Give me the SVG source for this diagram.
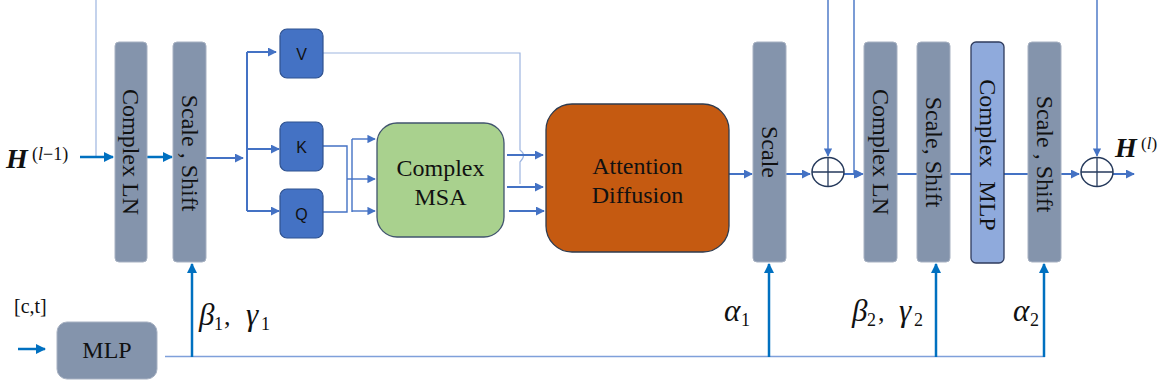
<svg xmlns="http://www.w3.org/2000/svg" width="1169" height="391" viewBox="0 0 1169 391">
<style>
.gbox{fill:#8494AC;stroke:#A7B1C2;stroke-width:1}
.vt{font-family:"Liberation Serif","Times New Roman",serif;font-size:24px;fill:#111;text-anchor:middle;dominant-baseline:central}
.qkv{fill:#4472C4;stroke:#2F528F;stroke-width:1.2}
.qt{font-family:"Liberation Sans",Arial,sans-serif;font-size:16px;fill:#111;text-anchor:middle;dominant-baseline:central}
.st{font-family:"Liberation Serif","Times New Roman",serif;font-size:24px;fill:#111;text-anchor:middle}
.sr{font-family:"Liberation Serif","Times New Roman",serif;fill:#111}
.m{font-family:"Liberation Serif","Times New Roman",serif;font-style:italic;fill:#111}
.g{font-family:"Liberation Serif","Times New Roman",serif;font-style:italic;font-size:31px;fill:#111}
.up{font-style:normal}
.sub{font-family:"Liberation Serif","Times New Roman",serif;font-size:18px;fill:#111}
.a1{stroke:#0070C0;stroke-width:2.5;fill:none}
.a2{stroke:#4472C4;stroke-width:2;fill:none}
.a3{stroke:#4472C4;stroke-width:1.4;fill:none}
.thin{stroke:#9DB5E0;stroke-width:1.2;fill:none}
.circ{fill:#fff;stroke:#263A5C;stroke-width:1.5}
</style>
<defs>
<marker id="m1" viewBox="0 0 10 10" refX="9" refY="5" markerWidth="4" markerHeight="4" orient="auto" markerUnits="strokeWidth"><path d="M0,0 L10,5 L0,10 z" fill="#0070C0"/></marker>
<marker id="m2" viewBox="0 0 10 10" refX="9" refY="5" markerWidth="4.5" markerHeight="4.5" orient="auto" markerUnits="strokeWidth"><path d="M0,0 L10,5 L0,10 z" fill="#4472C4"/></marker>
<marker id="m3" viewBox="0 0 10 10" refX="9" refY="5" markerWidth="6" markerHeight="6" orient="auto" markerUnits="strokeWidth"><path d="M0,0 L10,5 L0,10 z" fill="#4472C4"/></marker>
</defs>
<rect width="1169" height="391" fill="#fff"/>

<g id="connectors">
  <path class="thin" d="M96,0 V156"/>
  <path class="a3" d="M828,0 V156" marker-end="url(#m3)"/>
  <path class="a3" d="M854,0 V174 H863" marker-end="url(#m3)"/>
  <path class="a3" d="M1097,0 V156" marker-end="url(#m3)"/>
  <path class="a1" d="M80,157 H113" marker-end="url(#m1)"/>
  <path class="a1" d="M147,157 H172" marker-end="url(#m1)"/>
  <path class="a2" d="M206,158 H243" marker-end="url(#m2)"/>
  <path class="a2" d="M247,52 V211"/>
  <path class="a2" d="M247,52 H276" marker-end="url(#m2)"/>
  <path class="a2" d="M247,149 H279" marker-end="url(#m2)"/>
  <path class="a2" d="M247,211 H279" marker-end="url(#m2)"/>
  <path class="a3" d="M323,146 H347 V212 H323"/>
  <path class="a3" d="M347,179 H352"/>
  <path class="a3" d="M352,139 V212"/>
  <path class="a3" d="M352,139 H375" marker-end="url(#m3)"/>
  <path class="a3" d="M352,179 H375" marker-end="url(#m3)"/>
  <path class="a3" d="M352,211 H375" marker-end="url(#m3)"/>
  <path class="thin" d="M323,53 H520 V150 Q527,155 520,162 V184"/>
  <path class="a2" d="M507,155 H543" marker-end="url(#m2)"/>
  <path class="a2" d="M507,187 H543" marker-end="url(#m2)"/>
  <path class="a2" d="M509,211 H544" marker-end="url(#m2)"/>
  <path class="a2" d="M729,174 H752" marker-end="url(#m2)"/>
  <path class="a2" d="M786,174 H810" marker-end="url(#m2)"/>
  <path class="a2" d="M844,174 H862" marker-end="url(#m2)"/>
  <path class="a2" d="M897,174 H917"/>
  <path class="a2" d="M950,174 H971"/>
  <path class="a2" d="M1004,174 H1028"/>
  <path class="a2" d="M1061,174 H1079" marker-end="url(#m2)"/>
  <path class="a2" d="M1113,174 H1134" marker-end="url(#m2)"/>
  <path class="a1" d="M18,349 H45" marker-end="url(#m1)"/>
  <path class="a3" d="M165,356.5 H1045" style="stroke:#7FA0DA"/>
  <path class="a1" d="M192,357 V264" marker-end="url(#m1)"/>
  <path class="a1" d="M769,357 V264" marker-end="url(#m1)"/>
  <path class="a1" d="M936,357 V264" marker-end="url(#m1)"/>
  <path class="a1" d="M1044,357 V264" marker-end="url(#m1)"/>
</g>

<g id="label-h-in"><text class="m" x="6" y="168" font-size="28" font-weight="bold">H</text><text class="m" x="32" y="160" font-size="18"><tspan class="up">(</tspan>l<tspan class="up">−1)</tspan></text></g>

<g id="complex-ln-1"><rect class="gbox" x="115" y="42" width="32" height="220" rx="4"/><text class="vt" transform="translate(131,152) rotate(90)">Complex LN</text></g>
<g id="scale-shift-1"><rect class="gbox" x="173" y="42" width="33" height="220" rx="4"/><text class="vt" transform="translate(189.5,153) rotate(90)">Scale , Shift</text></g>

<g id="v"><rect class="qkv" x="280" y="29" width="43" height="49" rx="7"/><text class="qt" x="301.5" y="54">V</text></g>
<g id="k"><rect class="qkv" x="280" y="122" width="43" height="49" rx="7"/><text class="qt" x="301.5" y="147">K</text></g>
<g id="q"><rect class="qkv" x="280" y="189" width="43" height="49" rx="7"/><text class="qt" x="301.5" y="214">Q</text></g>

<g id="complex-msa"><rect x="377" y="123" width="127" height="114" rx="20" fill="#A9D18E" stroke="#41546E" stroke-width="1.3"/><text class="st" x="440.5" y="176">Complex</text><text class="st" x="440.5" y="205">MSA</text></g>

<g id="attention-diffusion"><rect x="546" y="104" width="183" height="148" rx="26" fill="#C55A11" stroke="#2F3B4E" stroke-width="1.3"/><text class="st" x="637.5" y="174">Attention</text><text class="st" x="637.5" y="203">Diffusion</text></g>

<g id="scale-1"><rect class="gbox" x="753" y="42" width="33" height="220" rx="4"/><text class="vt" transform="translate(769.5,152) rotate(90)">Scale</text></g>

<g id="add-1"><ellipse class="circ" cx="828" cy="172" rx="16" ry="14.5"/><path d="M812,172 H844 M828,157.5 V186.5" stroke="#263A5C" stroke-width="1.3"/></g>

<g id="complex-ln-2"><rect class="gbox" x="864" y="42" width="33" height="220" rx="4"/><text class="vt" transform="translate(880.5,152) rotate(90)">Complex LN</text></g>
<g id="scale-shift-2"><rect class="gbox" x="917" y="42" width="33" height="220" rx="4"/><text class="vt" transform="translate(933.5,152) rotate(90)">Scale, Shift</text></g>
<g id="complex-mlp"><rect x="971" y="42" width="33" height="221" rx="5" fill="#8FAADC" stroke="#2F3B5C" stroke-width="1.3"/><text class="vt" transform="translate(987.5,155) rotate(90)" word-spacing="8">Complex MLP</text></g>
<g id="scale-shift-3"><rect class="gbox" x="1028" y="42" width="33" height="220" rx="4"/><text class="vt" transform="translate(1044.5,154) rotate(90)">Scale , Shift</text></g>

<g id="add-2"><ellipse class="circ" cx="1097" cy="172" rx="16" ry="14.5"/><path d="M1081,172 H1113 M1097,157.5 V186.5" stroke="#263A5C" stroke-width="1.3"/></g>

<g id="label-h-out"><text class="m" x="1115" y="157" font-size="28" font-weight="bold">H</text><text class="m" x="1141" y="149" font-size="17"><tspan class="up">(</tspan>l<tspan class="up">)</tspan></text></g>

<g id="label-ct"><text class="sr" x="14" y="313" font-size="20">[c,t]</text></g>
<g id="mlp"><rect class="gbox" x="57" y="322" width="100" height="57" rx="10"/><text class="st" x="107" y="358">MLP</text></g>

<g id="labels">
  <text class="g" x="199" y="325">β</text><text class="sub" x="214" y="330">1</text><text class="sr" x="224" y="325" font-size="26">,</text><text class="g" x="246" y="325">γ</text><text class="sub" x="261" y="330">1</text>
  <text class="g" x="724" y="321">α</text><text class="sub" x="741" y="326">1</text>
  <text class="g" x="852" y="321">β</text><text class="sub" x="867" y="326">2</text><text class="sr" x="878" y="321" font-size="26">,</text><text class="g" x="899" y="321">γ</text><text class="sub" x="914" y="326">2</text>
  <text class="g" x="1013" y="321">α</text><text class="sub" x="1030" y="326">2</text>
</g>
</svg>
